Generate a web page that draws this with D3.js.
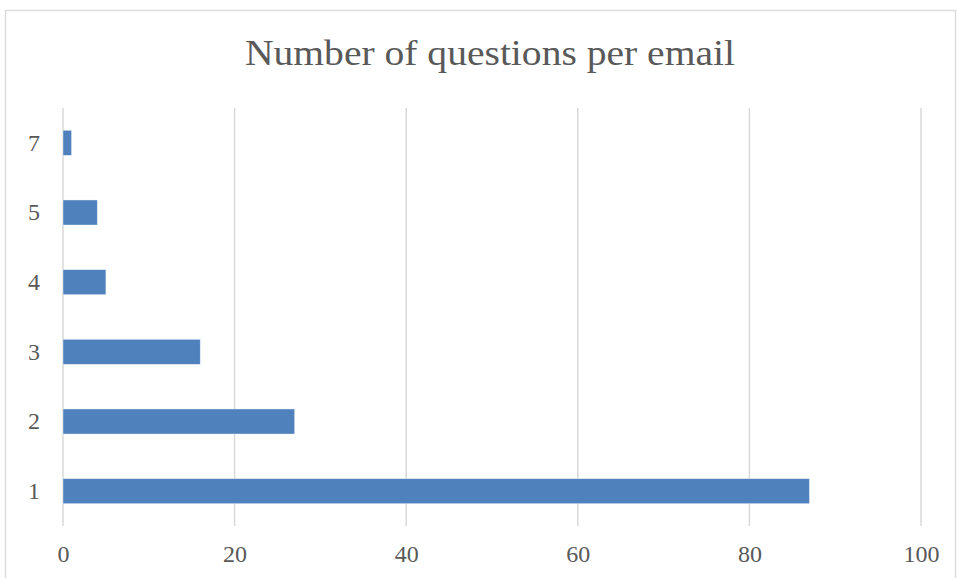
<!DOCTYPE html>
<html>
<head>
<meta charset="utf-8">
<script src="https://cdn.jsdelivr.net/npm/d3@7"></script>
<style>
  html, body { margin: 0; padding: 0; background: #fff; }
  svg { display: block; }
</style>
</head>
<body>
<svg id="chart" width="957" height="578"></svg>
<script>
// Questions per email (category) and how many emails had that many
const categories = ["1", "2", "3", "4", "5", "7"];
const counts = [87, 27, 16, 5, 4, 1];
const xTicks = [0, 20, 40, 60, 80, 100];
const title = "Number of questions per email";

const svg = d3.select("#chart");
const W = 957, H = 578;
const margin = { top: 108, right: 36, bottom: 52, left: 63 };
const font = "'Liberation Serif', 'DejaVu Serif', serif";
const textColor = "#595959";
const gridColor = "#d9d9d9";

// chart frame
svg.append("rect")
  .attr("x", 5.5).attr("y", 10.5)
  .attr("width", 950).attr("height", 620)
  .attr("fill", "#fff")
  .attr("stroke", gridColor).attr("stroke-width", 1.3);

const x = d3.scaleLinear()
  .domain([0, 100])
  .range([margin.left, W - margin.right]);

const y = d3.scaleBand()
  .domain(categories.slice().reverse())
  .range([margin.top, H - margin.bottom])
  .paddingInner(0.64)
  .paddingOuter(0.32);

// vertical gridlines
svg.append("g")
  .selectAll("line")
  .data(xTicks)
  .join("line")
  .attr("x1", d => x(d)).attr("x2", d => x(d))
  .attr("y1", margin.top).attr("y2", H - margin.bottom)
  .attr("stroke", gridColor).attr("stroke-width", 1.5);

// bars
svg.append("g")
  .selectAll("rect")
  .data(categories.map((c, i) => ({ c, v: counts[i] })))
  .join("rect")
  .attr("x", x(0))
  .attr("y", d => y(d.c))
  .attr("width", d => x(d.v) - x(0))
  .attr("height", y.bandwidth())
  .attr("fill", "#4f81bd")
  .attr("stroke", "#ffffff").attr("stroke-opacity", 0.55).attr("stroke-width", 0.75);

// x axis labels
const xAxis = d3.axisBottom(x).tickValues(xTicks).tickSize(0).tickPadding(19);
const gx = svg.append("g")
  .attr("transform", `translate(0,${H - margin.bottom})`)
  .call(xAxis);
gx.select(".domain").remove();
gx.selectAll("text")
  .attr("font-family", font).attr("font-size", 24)
  .attr("fill", textColor);

// y axis labels
const yAxis = d3.axisLeft(y).tickSize(0).tickPadding(23);
const gy = svg.append("g")
  .attr("transform", `translate(${margin.left},0)`)
  .call(yAxis);
gy.select(".domain").remove();
gy.selectAll("text")
  .attr("font-family", font).attr("font-size", 24)
  .attr("fill", textColor);

// title
svg.append("text")
  .attr("x", 490).attr("y", 65)
  .attr("text-anchor", "middle")
  .attr("font-family", font).attr("font-size", 35)
  .attr("textLength", 490).attr("lengthAdjust", "spacingAndGlyphs")
  .attr("fill", textColor)
  .text(title);
</script>
</body>
</html>
